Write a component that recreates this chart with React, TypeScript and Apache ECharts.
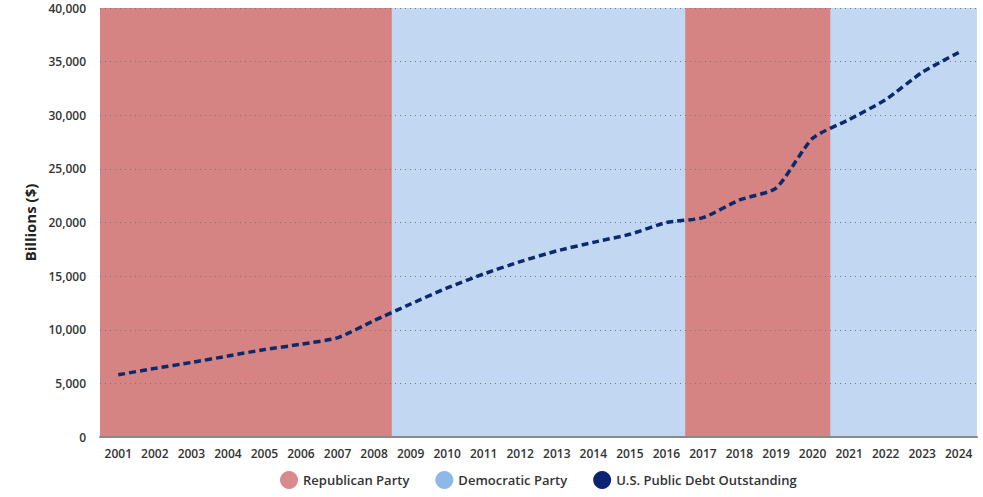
import React, { useEffect, useRef } from "react";
import * as echarts from "echarts";

// Fiscal years shown on the x axis
const years = [
  "2001", "2002", "2003", "2004", "2005", "2006", "2007", "2008",
  "2009", "2010", "2011", "2012", "2013", "2014", "2015", "2016",
  "2017", "2018", "2019", "2020", "2021", "2022", "2023", "2024",
];

// Party holding the presidency in each year (R / D)
const party = [
  "R", "R", "R", "R", "R", "R", "R", "R",
  "D", "D", "D", "D", "D", "D", "D", "D",
  "R", "R", "R", "R", "D", "D", "D", "D",
];

// U.S. public debt outstanding, billions of dollars
const debt = [
  5800, 6400, 6950, 7550, 8150, 8650, 9250, 10850,
  12400, 13900, 15200, 16350, 17350, 18150, 18900, 20000,
  20450, 22100, 23200, 27850, 29600, 31450, 34000, 35850,
];

const yMax = 40000;
const yStep = 5000;

const FONT = "'Open Sans', 'Noto Sans', sans-serif";
const RED = "#d68383";
const BLUE = "#c2d8f2";

export default function App() {
  const ref = useRef<HTMLDivElement>(null);

  useEffect(() => {
    document.body.style.margin = "0";
    if (!ref.current) return;
    const chart = echarts.init(ref.current, null, { renderer: "svg" });

    const repData = party.map((p) => (p === "R" ? yMax : null));
    const demData = party.map((p) => (p === "D" ? yMax : null));

    chart.setOption({
      animation: false,
      backgroundColor: "#ffffff",
      textStyle: { fontFamily: FONT },
      grid: { left: 100, right: 6, top: 8, bottom: 60, containLabel: false },
      legend: {
        left: 275,
        bottom: 3,
        icon: "circle",
        itemWidth: 18,
        itemHeight: 18,
        itemGap: 26,
        textStyle: { fontFamily: FONT, fontSize: 13, fontWeight: 600, color: "#333" },
        data: [
          { name: "Republican Party", itemStyle: { color: "#d98a8a" } },
          { name: "Democratic Party", itemStyle: { color: "#8cb9e8" } },
          { name: "U.S. Public Debt Outstanding", itemStyle: { color: "#0b2372" } },
        ],
      },
      xAxis: {
        type: "category",
        data: years,
        boundaryGap: true,
        axisLine: { show: true, lineStyle: { color: "#888", width: 2 } },
        axisTick: { show: false },
        axisLabel: {
          margin: 10,
          fontFamily: FONT,
          fontSize: 12,
          fontWeight: 600,
          color: "#333",
        },
        splitLine: { show: false },
      },
      yAxis: {
        type: "value",
        min: 0,
        max: yMax,
        interval: yStep,
        name: "Billions ($)",
        nameLocation: "middle",
        nameGap: 62,
        nameTextStyle: { fontFamily: FONT, fontSize: 15, fontWeight: 700, color: "#222" },
        axisLine: { show: false },
        axisTick: { show: false },
        axisLabel: {
          margin: 14,
          fontFamily: FONT,
          fontSize: 12,
          fontWeight: 600,
          color: "#333",
          formatter: (v: number) => v.toLocaleString("en-US"),
        },
        splitLine: { show: true, lineStyle: { color: "#777", width: 1, type: [1, 4] } },
      },
      series: [
        {
          name: "Republican Party",
          type: "bar",
          data: repData,
          // slightly wider than the band so neighbouring years leave no seam
          barWidth: "103%",
          barGap: "-100%",
          z: -1,
          itemStyle: { color: RED },
          emphasis: { disabled: true },
        },
        {
          name: "Democratic Party",
          type: "bar",
          data: demData,
          barWidth: "103%",
          barGap: "-100%",
          z: -1,
          itemStyle: { color: BLUE },
          emphasis: { disabled: true },
        },
        {
          name: "U.S. Public Debt Outstanding",
          type: "line",
          data: debt,
          smooth: 0.2,
          symbol: "none",
          z: 5,
          itemStyle: { color: "#0b2a6e" },
          lineStyle: { color: "#0b2a6e", width: 3.5, type: [7, 4] },
        },
      ],
    });

    return () => chart.dispose();
  }, []);

  return <div ref={ref} style={{ width: 983, height: 497 }} />;
}
